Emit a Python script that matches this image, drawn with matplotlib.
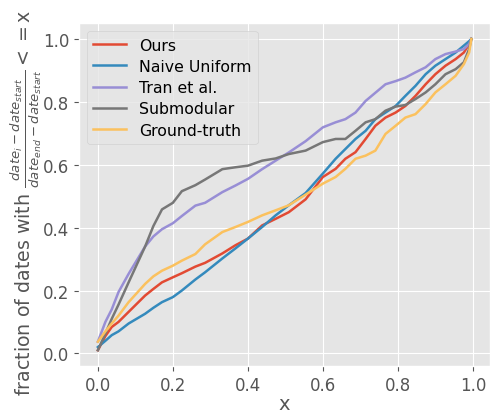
import matplotlib
matplotlib.use("Agg")
import matplotlib.pyplot as plt

# x positions (fraction of the period)
x = [0.0, 0.02, 0.037, 0.055, 0.082, 0.126, 0.148, 0.171, 0.2, 0.224, 0.26, 0.286,
     0.332, 0.367, 0.4, 0.438, 0.474, 0.509, 0.554, 0.6, 0.634, 0.66, 0.687, 0.714,
     0.74, 0.767, 0.794, 0.82, 0.847, 0.874, 0.9, 0.927, 0.954, 0.976, 0.99, 0.996]

ours = [0.01, 0.055, 0.084, 0.1, 0.132, 0.184, 0.205, 0.226, 0.242, 0.255, 0.276, 0.288,
        0.318, 0.344, 0.365, 0.407, 0.428, 0.449, 0.49, 0.561, 0.587, 0.619, 0.64, 0.682,
        0.724, 0.75, 0.766, 0.787, 0.819, 0.856, 0.888, 0.915, 0.936, 0.957, 0.984, 1.0]
naive = [0.02, 0.04, 0.058, 0.07, 0.095, 0.126, 0.145, 0.163, 0.179, 0.2, 0.235, 0.258,
         0.302, 0.334, 0.365, 0.402, 0.439, 0.471, 0.51, 0.572, 0.619, 0.65, 0.682, 0.708,
         0.745, 0.766, 0.787, 0.819, 0.851, 0.888, 0.915, 0.936, 0.957, 0.979, 0.993, 1.0]
tran = [0.037, 0.1, 0.14, 0.195, 0.253, 0.34, 0.372, 0.395, 0.414, 0.437, 0.47, 0.479,
        0.513, 0.534, 0.555, 0.586, 0.613, 0.639, 0.675, 0.719, 0.735, 0.745, 0.766, 0.803,
        0.829, 0.856, 0.866, 0.877, 0.894, 0.91, 0.936, 0.952, 0.96, 0.968, 0.984, 1.0]
submod = [0.01, 0.063, 0.11, 0.155, 0.226, 0.34, 0.405, 0.458, 0.479, 0.516, 0.535, 0.553,
          0.586, 0.592, 0.597, 0.613, 0.62, 0.634, 0.645, 0.672, 0.682, 0.682, 0.708, 0.735,
          0.745, 0.772, 0.785, 0.79, 0.809, 0.83, 0.856, 0.888, 0.904, 0.926, 0.968, 1.0]
truth = [0.037, 0.07, 0.095, 0.12, 0.163, 0.221, 0.245, 0.263, 0.279, 0.295, 0.316, 0.347,
         0.386, 0.402, 0.418, 0.439, 0.455, 0.471, 0.505, 0.54, 0.561, 0.587, 0.619, 0.629,
         0.645, 0.698, 0.724, 0.75, 0.761, 0.793, 0.83, 0.856, 0.883, 0.92, 0.957, 1.0]

labels = ["Ours", "Naive Uniform", "Tran et al.", "Submodular", "Ground-truth"]

plt.style.use("ggplot")
plt.rcParams["font.size"] = 12

fig = plt.figure(figsize=(4.95, 4.14), dpi=100)
ax = fig.add_axes([0.16, 0.114, 0.83, 0.827])

for series, name in zip([ours, naive, tran, submod, truth], labels):
    ax.plot(x, series, label=name, linewidth=1.8)

ax.set_xticks([0.0, 0.2, 0.4, 0.6, 0.8, 1.0])
ax.set_yticks([0.0, 0.2, 0.4, 0.6, 0.8, 1.0])
ax.set_xlabel("x", fontsize=14, labelpad=0)
ax.set_ylabel(r"fraction of dates with $\frac{date_i - date_{start}}{date_{end} - date_{start}} <=$x",
              fontsize=13.7)
ax.yaxis.set_label_coords(-0.085, 0.478)
ax.legend(loc="upper left", fontsize=11.3, labelspacing=0.4, handlelength=2.1)

fig.savefig("out.png", dpi=100)
